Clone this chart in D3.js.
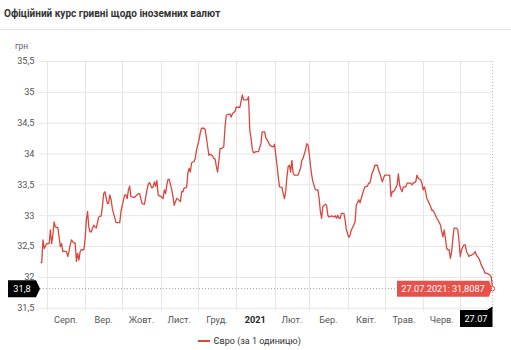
<!DOCTYPE html>
<html><head><meta charset="utf-8">
<script src="https://cdn.jsdelivr.net/npm/d3@7"></script>
<style>html,body{margin:0;padding:0;background:#fff;}svg{display:block;font-family:Roboto,"Noto Sans",sans-serif;}</style>
</head><body>
<script>
const title = "Офіційний курс гривні щодо іноземних валют";
const unitLabel = "грн";
const seriesName = "Євро (за 1 одиницю)";
const yTicks = [31.5, 32, 32.5, 33, 33.5, 34, 34.5, 35, 35.5];
const monthStarts = ["2020-08-01","2020-09-01","2020-10-01","2020-11-01","2020-12-01","2021-01-01","2021-02-01","2021-03-01","2021-04-01","2021-05-01","2021-06-01","2021-07-01"];
const monthLabels = ["Серп.","Вер.","Жовт.","Лист.","Груд.","2021","Лют.","Бер.","Квіт.","Трав.","Черв."];
const lastDate = "2021-07-27";
const lastValue = 31.8087;
const dates = [
"2020-07-27","2020-07-28","2020-07-29","2020-07-30","2020-07-31","2020-08-01","2020-08-03","2020-08-04","2020-08-05","2020-08-06","2020-08-07","2020-08-08","2020-08-09","2020-08-10","2020-08-11","2020-08-12","2020-08-13","2020-08-14","2020-08-15","2020-08-16","2020-08-17","2020-08-18","2020-08-19","2020-08-20","2020-08-21","2020-08-22","2020-08-23","2020-08-24","2020-08-25","2020-08-26","2020-08-27","2020-08-28","2020-08-29","2020-08-31",
"2020-09-01","2020-09-02","2020-09-03","2020-09-04","2020-09-05","2020-09-06","2020-09-08","2020-09-09","2020-09-10","2020-09-12","2020-09-14","2020-09-15","2020-09-16","2020-09-17","2020-09-19","2020-09-20","2020-09-21","2020-09-22","2020-09-23","2020-09-24","2020-09-26","2020-09-28","2020-09-29","2020-09-30",
"2020-10-01","2020-10-03","2020-10-04","2020-10-05","2020-10-06","2020-10-07","2020-10-08","2020-10-10","2020-10-11","2020-10-13","2020-10-14","2020-10-15","2020-10-17","2020-10-18","2020-10-19","2020-10-21","2020-10-22","2020-10-23","2020-10-25","2020-10-26","2020-10-27","2020-10-28","2020-10-29","2020-10-30","2020-10-31",
"2020-11-01","2020-11-03","2020-11-04","2020-11-05","2020-11-06","2020-11-07","2020-11-08","2020-11-10","2020-11-11","2020-11-12","2020-11-13","2020-11-14","2020-11-15","2020-11-17","2020-11-18","2020-11-19","2020-11-20","2020-11-22","2020-11-23","2020-11-24","2020-11-25","2020-11-26","2020-11-28","2020-11-29","2020-11-30",
"2020-12-02","2020-12-03","2020-12-04","2020-12-06","2020-12-07","2020-12-08","2020-12-09","2020-12-10","2020-12-11","2020-12-13","2020-12-14","2020-12-15","2020-12-16","2020-12-17","2020-12-18","2020-12-19","2020-12-20","2020-12-22","2020-12-23","2020-12-24","2020-12-26","2020-12-27","2020-12-28","2020-12-29","2020-12-31",
"2021-01-01","2021-01-03","2021-01-04","2021-01-06","2021-01-07","2021-01-08","2021-01-10","2021-01-11","2021-01-12","2021-01-13","2021-01-14","2021-01-15","2021-01-17","2021-01-19","2021-01-21","2021-01-22","2021-01-24","2021-01-25","2021-01-27","2021-01-28","2021-01-30","2021-01-31",
"2021-02-01","2021-02-02","2021-02-03","2021-02-04","2021-02-05","2021-02-07","2021-02-08","2021-02-09","2021-02-10","2021-02-11","2021-02-12","2021-02-13","2021-02-14","2021-02-15","2021-02-16","2021-02-17","2021-02-19","2021-02-20","2021-02-22","2021-02-23","2021-02-24","2021-02-26","2021-02-27","2021-02-28",
"2021-03-01","2021-03-02","2021-03-03","2021-03-04","2021-03-06","2021-03-07","2021-03-08","2021-03-09","2021-03-10","2021-03-11","2021-03-12","2021-03-14","2021-03-15","2021-03-16","2021-03-17","2021-03-19","2021-03-21","2021-03-22","2021-03-23","2021-03-24","2021-03-25","2021-03-26","2021-03-27","2021-03-29","2021-03-30","2021-03-31",
"2021-04-02","2021-04-03","2021-04-04","2021-04-06","2021-04-07","2021-04-08","2021-04-10","2021-04-11","2021-04-12","2021-04-14","2021-04-15","2021-04-17","2021-04-18","2021-04-19","2021-04-21","2021-04-22","2021-04-23","2021-04-25","2021-04-26","2021-04-27","2021-04-29","2021-04-30",
"2021-05-01","2021-05-03","2021-05-05","2021-05-06","2021-05-07","2021-05-08","2021-05-09","2021-05-11","2021-05-12","2021-05-13","2021-05-14","2021-05-15","2021-05-16","2021-05-18","2021-05-19","2021-05-22","2021-05-23","2021-05-24","2021-05-26","2021-05-27","2021-05-28","2021-05-30","2021-05-31",
"2021-06-01","2021-06-02","2021-06-03","2021-06-04","2021-06-05","2021-06-07","2021-06-08","2021-06-09","2021-06-11","2021-06-12","2021-06-13","2021-06-15","2021-06-16","2021-06-17","2021-06-18","2021-06-19","2021-06-20","2021-06-21","2021-06-22","2021-06-23","2021-06-24","2021-06-25","2021-06-26","2021-06-28","2021-06-29","2021-06-30",
"2021-07-01","2021-07-02","2021-07-04","2021-07-05","2021-07-06","2021-07-08","2021-07-09","2021-07-10","2021-07-12","2021-07-13","2021-07-14","2021-07-16","2021-07-17","2021-07-18","2021-07-20","2021-07-21","2021-07-22","2021-07-25","2021-07-26","2021-07-27"];
const values = [
32.23,32.23,32.60,32.46,32.50,32.54,32.54,32.76,32.54,32.68,32.89,32.81,32.80,32.80,32.65,32.49,32.54,32.41,32.42,32.41,32.41,32.33,32.41,32.52,32.60,32.57,32.55,32.55,32.25,32.38,32.27,32.41,32.44,32.44,
32.60,32.92,33.06,32.81,32.73,32.73,32.84,32.81,32.79,32.97,32.99,33.14,33.35,33.38,33.19,33.19,33.33,33.25,33.11,33.03,32.88,32.88,32.88,33.06,
33.16,33.33,33.33,33.27,33.41,33.47,33.30,33.29,33.29,33.33,33.35,33.35,33.19,33.18,33.18,33.41,33.50,33.53,33.44,33.46,33.54,33.47,33.56,33.33,33.31,
33.31,33.27,33.41,33.35,33.49,33.58,33.58,33.41,33.30,33.16,33.22,33.27,33.26,33.22,33.38,33.38,33.44,33.45,33.68,33.76,33.70,33.85,33.87,33.92,34.06,
34.22,34.33,34.41,34.41,34.39,34.25,34.11,33.97,33.99,33.96,33.92,33.91,33.79,33.70,33.87,34.08,34.08,34.11,34.43,34.62,34.64,34.64,34.59,34.65,34.68,
34.75,34.75,34.75,34.95,34.87,34.87,34.87,34.92,34.38,34.25,34.08,34.01,34.03,34.03,34.16,34.35,34.35,34.25,34.19,34.14,34.11,34.11,
34.15,33.97,33.81,33.62,33.46,33.45,33.35,33.27,33.38,33.62,33.79,33.81,33.70,33.89,33.68,33.65,33.65,33.65,33.76,33.89,33.92,34.06,34.16,34.14,
34.00,33.81,33.65,33.54,33.41,33.41,33.41,33.27,33.06,32.95,33.14,33.18,33.16,33.00,32.97,32.99,32.97,32.99,32.95,33.00,32.95,32.95,33.03,33.03,32.92,32.76,
32.64,32.68,32.76,32.84,32.89,33.16,33.25,33.20,33.27,33.41,33.46,33.47,33.52,33.52,33.70,33.73,33.81,33.81,33.73,33.68,33.54,33.60,
33.65,33.65,33.65,33.30,33.38,33.38,33.41,33.49,33.67,33.49,33.42,33.38,33.46,33.46,33.52,33.52,33.49,33.52,33.54,33.65,33.60,33.57,33.52,
33.41,33.46,33.38,33.27,33.23,33.14,33.08,33.08,33.00,32.95,32.92,32.84,32.73,32.65,32.76,32.62,32.46,32.44,32.44,32.30,32.41,32.62,32.79,32.79,32.76,32.57,
32.33,32.44,32.52,32.52,32.41,32.33,32.35,32.35,32.38,32.41,32.35,32.30,32.25,32.19,32.11,32.06,32.06,32.03,32.00,31.8087];

const W = 511, H = 350;
const parse = d3.utcParse("%Y-%m-%d");
const data = dates.map((d, i) => ({date: parse(d), value: values[i]}));
const lineColor = "#d9463e";
const fs = 9.2;

const svg = d3.select("body").append("svg").attr("width", W).attr("height", H);

const x = d3.scaleUtc().domain([parse("2020-07-27"), parse(lastDate)]).range([40.5, 492.5]);
const y = d3.scaleLinear().domain([31.5, 35.5]).range([307.7, 61]);
const fmt = v => String(v).replace(".", ",");

// title
svg.append("text").attr("x", 4).attr("y", 17).attr("font-size", 10).attr("font-weight", 700)
  .attr("fill", "#333").text(title);
svg.append("line").attr("x1", 0).attr("x2", W).attr("y1", 29.5).attr("y2", 29.5)
  .attr("stroke", "#e3e3e3").attr("stroke-width", 1);

// horizontal grid + y labels
const yAxis = d3.axisLeft(y).tickValues(yTicks).tickSize(-(492.5 - 39)).tickFormat(fmt).tickPadding(4);
const gy = svg.append("g").attr("transform", "translate(39,0)").call(yAxis);
gy.select(".domain").remove();
gy.selectAll(".tick line").attr("stroke", "#e6e6e6");
gy.selectAll(".tick text").attr("font-size", fs).attr("fill", "#555").attr("font-family", "Roboto").attr("x", -4.5);

svg.append("text").attr("x", 15).attr("y", 49).attr("font-size", 8.5).attr("fill", "#666").text(unitLabel);

// vertical month grid
const ms = monthStarts.map(parse);
svg.append("g").selectAll("line").data(ms).join("line")
  .attr("x1", d => Math.round(x(d)) + 0.5).attr("x2", d => Math.round(x(d)) + 0.5)
  .attr("y1", 61).attr("y2", 311).attr("stroke", "#e6e6e6");

// month labels centered in month
svg.append("g").selectAll("text").data(monthLabels).join("text")
  .attr("x", (d, i) => (x(ms[i]) + x(ms[i + 1])) / 2)
  .attr("y", 322.5).attr("text-anchor", "middle").attr("font-size", fs)
  .attr("font-weight", d => d === "2021" ? 700 : 400)
  .attr("fill", d => d === "2021" ? "#222" : "#555").text(d => d);

// crosshair
svg.append("line").attr("x1", 40).attr("x2", x(parse(lastDate))).attr("y1", y(lastValue)).attr("y2", y(lastValue))
  .attr("stroke", "#9a9a9a").attr("stroke-dasharray", "1,2");
svg.append("line").attr("x1", x(parse(lastDate))).attr("x2", x(parse(lastDate))).attr("y1", 61).attr("y2", 310)
  .attr("stroke", "#b8b8b8").attr("stroke-dasharray", "1,2");

// line
const line = d3.line().x(d => x(d.date)).y(d => y(d.value));
svg.append("path").datum(data).attr("d", line).attr("fill", "none")
  .attr("stroke", lineColor).attr("stroke-width", 1.3).attr("stroke-linejoin", "round");

// end marker
svg.append("circle").attr("cx", x(parse(lastDate))).attr("cy", y(lastValue)).attr("r", 2.2)
  .attr("fill", "#fff").attr("stroke", lineColor).attr("stroke-width", 1);

// red tooltip
const ty = y(lastValue);
const tg = svg.append("g");
tg.append("path").attr("d", `M397,${ty-8} H489 L492,${ty} L489,${ty+8} H397 Z`).attr("fill", "#e8504a");
tg.append("text").attr("x", 443).attr("y", ty + 3.3).attr("text-anchor", "middle").attr("font-size", fs)
  .attr("fill", "#fff").text("27.07.2021: " + fmt(lastValue));

// black y label
const yl = svg.append("g");
yl.append("path").attr("d", `M8,${ty-8.5} H36 L40,${ty} L36,${ty+8.5} H8 Z`).attr("fill", "#000");
yl.append("text").attr("x", 22).attr("y", ty + 3.3).attr("text-anchor", "middle").attr("font-size", fs)
  .attr("fill", "#fff").text(fmt(31.8));

// black x label
const xl = svg.append("g");
xl.append("path").attr("d", `M460,310 H487 L492.5,306.5 L492.5,327 H460 Z`).attr("fill", "#000");
xl.append("text").attr("x", 476).attr("y", 321.8).attr("text-anchor", "middle").attr("font-size", fs)
  .attr("fill", "#fff").text("27.07");

// legend
svg.append("line").attr("x1", 198).attr("x2", 210).attr("y1", 341).attr("y2", 341)
  .attr("stroke", lineColor).attr("stroke-width", 2);
svg.append("text").attr("x", 213.5).attr("y", 344.3).attr("font-size", 9).attr("fill", "#333").text(seriesName);
</script>
</body></html>
